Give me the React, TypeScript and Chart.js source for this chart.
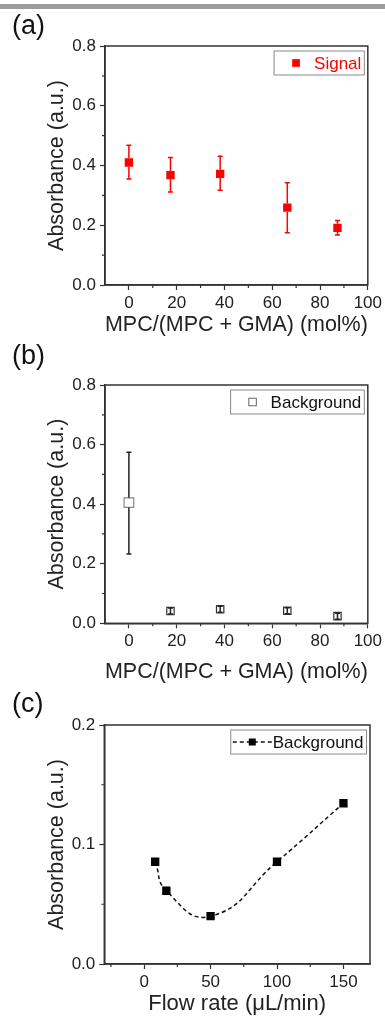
import React, { useEffect, useRef } from "react";
import { Chart, registerables } from "chart.js";

Chart.register(...registerables);

// ---------- data ----------
const compositions = [0, 17.4, 38.2, 66.3, 87.3];
const signalValues = [0.41, 0.368, 0.372, 0.259, 0.191];
const signalErrLow = [0.355, 0.311, 0.317, 0.175, 0.167];
const signalErrHigh = [0.468, 0.427, 0.431, 0.342, 0.216];

const backgroundValues = [0.405, 0.041, 0.047, 0.042, 0.024];
const backgroundErrLow = [0.233, 0.031, 0.037, 0.032, 0.014];
const backgroundErrHigh = [0.574, 0.051, 0.057, 0.052, 0.034];

const flowRates = [8.3, 16.7, 50, 100, 150];
const flowBackground = [0.0856, 0.0613, 0.04, 0.0856, 0.1345];

const compTicks = [0, 20, 40, 60, 80, 100];
const compMinorTicks = [10, 30, 50, 70, 90];
const absTicks = [0, 0.2, 0.4, 0.6, 0.8];
const absMinorTicks = [0.1, 0.3, 0.5, 0.7];
const flowTicks = [0, 50, 100, 150];
const flowMinorTicks = [-25, 25, 75, 125];
const flowAbsTicks = [0, 0.1, 0.2];
const flowAbsMinorTicks = [0.05, 0.15];

const FONT = '"Liberation Sans", Arial, Helvetica, sans-serif';
Chart.defaults.font.family = FONT;

// ---------- plugins ----------
const framePlugin = {
  id: "frame",
  afterDraw(chart: any, _args: any, o: any) {
    const { ctx, chartArea: a } = chart;
    const xs = chart.scales.x;
    const ys = chart.scales.y;
    ctx.save();
    ctx.strokeStyle = "#333";
    ctx.lineWidth = 1.5;
    ctx.strokeRect(a.left, a.top, a.right - a.left, a.bottom - a.top);
    ctx.lineWidth = 1.2;
    ctx.beginPath();
    (o.minorX || []).forEach((v: number) => {
      const px = xs.getPixelForValue(v);
      ctx.moveTo(px, a.bottom);
      ctx.lineTo(px, a.bottom + 3);
    });
    (o.minorY || []).forEach((v: number) => {
      const py = ys.getPixelForValue(v);
      ctx.moveTo(a.left, py);
      ctx.lineTo(a.left - 3, py);
    });
    ctx.stroke();
    ctx.restore();
  },
};

const errorBarPlugin = {
  id: "errorBars",
  afterDatasetsDraw(chart: any) {
    const ctx = chart.ctx;
    const ys = chart.scales.y;
    chart.data.datasets.forEach((ds: any, di: number) => {
      if (!ds.errLow) return;
      const meta = chart.getDatasetMeta(di);
      ctx.save();
      ctx.strokeStyle = ds.errColor;
      ctx.lineWidth = 1.5;
      meta.data.forEach((pt: any, i: number) => {
        const x = pt.x;
        const y = pt.y;
        const r = (pt.options.radius || 0) * Math.SQRT1_2;
        const yHi = ys.getPixelForValue(ds.errHigh[i]);
        const yLo = ys.getPixelForValue(ds.errLow[i]);
        const cap = 2.5;
        ctx.beginPath();
        if (yHi < y - r) {
          ctx.moveTo(x, yHi);
          ctx.lineTo(x, y - r);
          ctx.moveTo(x, y + r);
          ctx.lineTo(x, yLo);
        } else {
          ctx.moveTo(x, yHi);
          ctx.lineTo(x, yLo);
        }
        ctx.moveTo(x - cap, yHi);
        ctx.lineTo(x + cap, yHi);
        ctx.moveTo(x - cap, yLo);
        ctx.lineTo(x + cap, yLo);
        ctx.stroke();
      });
      ctx.restore();
    });
  },
};

const boxLegendPlugin = {
  id: "boxLegend",
  afterDraw(chart: any, _args: any, o: any) {
    if (!o || !o.text) return;
    const { ctx, chartArea: a } = chart;
    ctx.save();
    ctx.font = `17px ${FONT}`;
    const tw = ctx.measureText(o.text).width;
    const boxRight = a.right - 3.5;
    const boxTop = a.top + 5;
    const boxH = 24;
    const cy = boxTop + boxH / 2;
    const textLeft = boxRight - 3 - tw;
    let boxLeft: number;
    let mx: number;
    if (o.symbol === "line") {
      const x0 = textLeft - 40;
      const x1 = textLeft - 1;
      boxLeft = x0 - 2;
      mx = (x0 + x1) / 2;
      ctx.fillStyle = "#fff";
      ctx.fillRect(boxLeft, boxTop, boxRight - boxLeft, boxH);
      ctx.strokeStyle = "#8a8a8a";
      ctx.lineWidth = 1;
      ctx.strokeRect(boxLeft, boxTop, boxRight - boxLeft, boxH);
      ctx.strokeStyle = "#111";
      ctx.lineWidth = 1.5;
      ctx.setLineDash([4, 3]);
      ctx.beginPath();
      ctx.moveTo(x0, cy);
      ctx.lineTo(x1, cy);
      ctx.stroke();
      ctx.setLineDash([]);
    } else {
      mx = textLeft - 18;
      boxLeft = mx - 22;
      ctx.fillStyle = "#fff";
      ctx.fillRect(boxLeft, boxTop, boxRight - boxLeft, boxH);
      ctx.strokeStyle = "#8a8a8a";
      ctx.lineWidth = 1;
      ctx.strokeRect(boxLeft, boxTop, boxRight - boxLeft, boxH);
    }
    const s = o.markerSize;
    if (o.markerFill) {
      ctx.fillStyle = o.markerFill;
      ctx.fillRect(mx - s / 2, cy - s / 2, s, s);
    }
    if (o.markerBorder) {
      ctx.strokeStyle = o.markerBorder;
      ctx.lineWidth = 1;
      ctx.strokeRect(mx - s / 2, cy - s / 2, s, s);
    }
    ctx.fillStyle = o.textColor;
    ctx.textBaseline = "middle";
    ctx.fillText(o.text, textLeft, cy + 1);
    ctx.restore();
  },
};

// ---------- config helpers ----------
function axisX(min: number, max: number, ticks: number[], title: string, height: number, titlePad: number) {
  return {
    type: "linear",
    position: "bottom",
    min,
    max,
    afterBuildTicks: (scale: any) => {
      scale.ticks = ticks.map((v) => ({ value: v }));
    },
    afterFit: (scale: any) => {
      scale.height = height;
    },
    grid: { drawOnChartArea: false, drawTicks: true, tickLength: 5, tickColor: "#333", tickWidth: 1.2 },
    border: { display: true, color: "#333", width: 1.5 },
    ticks: {
      autoSkip: false,
      maxRotation: 0,
      padding: 3,
      color: "#222",
      font: { size: 17, family: FONT },
      callback: (v: any) => String(v),
    },
    title: {
      display: true,
      text: title,
      color: "#222",
      font: { size: 22, family: FONT },
      padding: { top: 0, bottom: titlePad },
    },
  };
}

function axisY(min: number, max: number, ticks: number[], width: number) {
  return {
    type: "linear",
    position: "left",
    min,
    max,
    afterBuildTicks: (scale: any) => {
      scale.ticks = ticks.map((v) => ({ value: v }));
    },
    afterFit: (scale: any) => {
      scale.width = width;
    },
    grid: { drawOnChartArea: false, drawTicks: true, tickLength: 5, tickColor: "#333", tickWidth: 1.2 },
    border: { display: true, color: "#333", width: 1.5 },
    ticks: {
      autoSkip: false,
      padding: 4,
      color: "#222",
      font: { size: 17, family: FONT },
      callback: (v: any) => Number(v).toFixed(1),
    },
    title: {
      display: true,
      text: "Absorbance (a.u.)",
      color: "#222",
      font: { size: 21.5, family: FONT },
      padding: { top: 44, bottom: 0 },
    },
  };
}

function configA(): any {
  return {
    type: "scatter",
    data: {
      datasets: [
        {
          label: "Signal",
          data: compositions.map((x, i) => ({ x, y: signalValues[i] })),
          errLow: signalErrLow,
          errHigh: signalErrHigh,
          errColor: "#ff0000",
          pointStyle: "rect",
          pointRadius: 5.9,
          pointBackgroundColor: "#ff0000",
          pointBorderColor: "#ff0000",
          pointBorderWidth: 0,
          showLine: false,
        },
      ],
    },
    options: {
      responsive: false,
      animation: false,
      events: [],
      layout: { padding: { top: 46, right: 15, left: 0, bottom: 0 } },
      scales: {
        x: axisX(-10, 100, compTicks, "MPC/(MPC + GMA) (mol%)", 60, 6.4),
        y: axisY(0, 0.8, absTicks, 105),
      },
      plugins: {
        legend: { display: false },
        tooltip: { enabled: false },
        frame: { minorX: compMinorTicks, minorY: absMinorTicks },
        boxLegend: { text: "Signal", textColor: "#ff0000", symbol: "marker", markerFill: "#ff0000", markerSize: 7.7 },
      },
    },
    plugins: [errorBarPlugin, framePlugin, boxLegendPlugin],
  };
}

function configB(): any {
  return {
    type: "scatter",
    data: {
      datasets: [
        {
          label: "Background",
          data: compositions.map((x, i) => ({ x, y: backgroundValues[i] })),
          errLow: backgroundErrLow,
          errHigh: backgroundErrHigh,
          errColor: "#222",
          pointStyle: "rect",
          pointRadius: (c: any) => (c.dataIndex === 0 ? 6.8 : 5.2),
          pointBackgroundColor: (c: any) => (c.dataIndex === 0 ? "#ffffff" : "rgba(255,255,255,0.6)"),
          pointBorderColor: (c: any) => (c.dataIndex === 0 ? "#888888" : "#333333"),
          pointBorderWidth: 1.2,
          showLine: false,
        },
      ],
    },
    options: {
      responsive: false,
      animation: false,
      events: [],
      layout: { padding: { top: 40, right: 15, left: 0, bottom: 0 } },
      scales: {
        x: axisX(-10, 100, compTicks, "MPC/(MPC + GMA) (mol%)", 76.7, 14.9),
        y: axisY(0, 0.8, absTicks, 105),
      },
      plugins: {
        legend: { display: false },
        tooltip: { enabled: false },
        frame: { minorX: compMinorTicks, minorY: absMinorTicks },
        boxLegend: { text: "Background", textColor: "#111", symbol: "marker", markerFill: "#fff", markerBorder: "#666", markerSize: 7.5 },
      },
    },
    plugins: [errorBarPlugin, framePlugin, boxLegendPlugin],
  };
}

function configC(): any {
  return {
    type: "scatter",
    data: {
      datasets: [
        {
          label: "Background",
          data: flowRates.map((x, i) => ({ x, y: flowBackground[i] })),
          showLine: true,
          borderColor: "#111",
          borderWidth: 1.5,
          borderDash: [4, 3],
          tension: 0.5,
          pointStyle: "rect",
          pointRadius: 5.9,
          pointBackgroundColor: "#000",
          pointBorderColor: "#000",
          pointBorderWidth: 0,
        },
      ],
    },
    options: {
      responsive: false,
      animation: false,
      events: [],
      layout: { padding: { top: 25, right: 15, left: 0, bottom: 0 } },
      scales: {
        x: axisX(-30, 170, flowTicks, "Flow rate (\u03bcL/min)", 59, 5.9),
        y: axisY(0, 0.2, flowAbsTicks, 104.3),
      },
      plugins: {
        legend: { display: false },
        tooltip: { enabled: false },
        frame: { minorX: flowMinorTicks, minorY: flowAbsMinorTicks },
        boxLegend: { text: "Background", textColor: "#111", symbol: "line", markerFill: "#000", markerSize: 7 },
      },
    },
    plugins: [framePlugin, boxLegendPlugin],
  };
}

function ChartCanvas({ top, height, build }: { top: number; height: number; build: () => any }) {
  const ref = useRef<HTMLCanvasElement>(null);
  useEffect(() => {
    const chart = new Chart(ref.current as HTMLCanvasElement, build());
    return () => chart.destroy();
  }, []);
  return (
    <canvas
      ref={ref}
      width={385}
      height={height}
      style={{ position: "absolute", left: 0, top, width: 385, height, display: "block" }}
    />
  );
}

const letterStyle = (top: number): React.CSSProperties => ({
  position: "absolute",
  left: 12,
  top,
  fontFamily: FONT,
  fontSize: 27,
  lineHeight: 1,
  color: "#111",
});

export default function App() {
  return (
    <div style={{ position: "absolute", left: 0, top: 0, width: 385, height: 1023, background: "#fff", overflow: "hidden" }}>
      <div style={{ position: "absolute", left: 0, top: 4, width: 385, height: 4.5, background: "#9c9c9c" }} />
      <ChartCanvas top={0} height={345} build={configA} />
      <ChartCanvas top={345} height={355} build={configB} />
      <ChartCanvas top={700} height={323} build={configC} />
      <div style={letterStyle(12)}>(a)</div>
      <div style={letterStyle(342)}>(b)</div>
      <div style={letterStyle(690)}>(c)</div>
    </div>
  );
}
